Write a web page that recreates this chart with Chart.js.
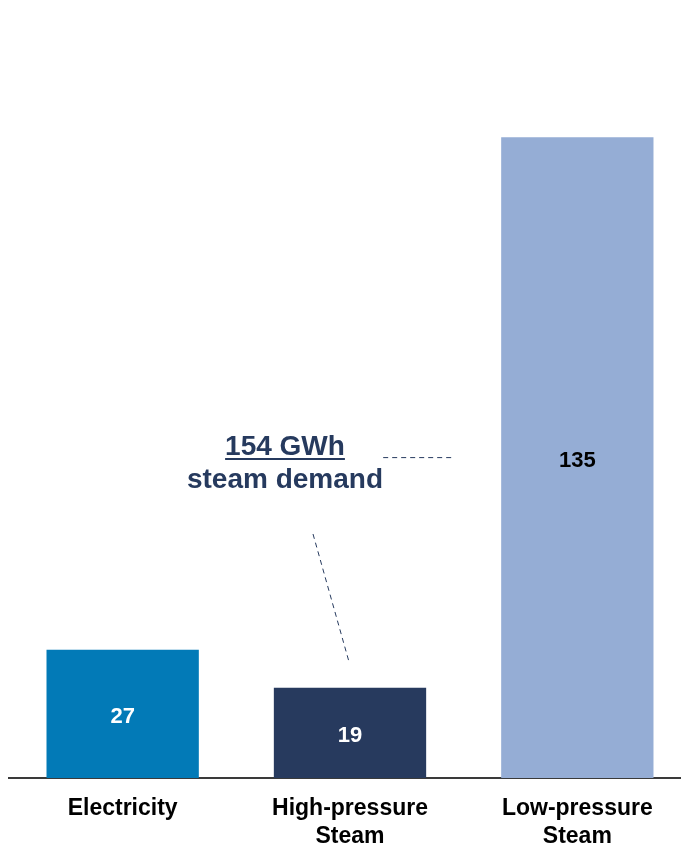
<!DOCTYPE html>
<html>
<head>
<meta charset="utf-8">
<script src="https://cdn.jsdelivr.net/npm/chart.js@4"></script>
<style>
  html, body { margin:0; padding:0; background:#fff; overflow:hidden; }
  #wrap { width:701px; height:847px; }
</style>
</head>
<body>
<div id="wrap"><canvas id="c" width="701" height="847"></canvas></div>
<script>
// Data
const categories = [["Electricity"], ["High-pressure", "Steam"], ["Low-pressure", "Steam"]];
const values = [27, 19, 135];
const barColors = ["#027AB7", "#273A5E", "#95ADD5"];
const labelColors = ["#ffffff", "#ffffff", "#000000"];
const steamIdx = [1, 2];

const FONT = "'Liberation Sans', Arial, sans-serif";
const NAVY = "#263A5E";

// value labels inside bars
const barLabels = {
  id: "barLabels",
  afterDatasetsDraw(chart) {
    const ctx = chart.ctx;
    const meta = chart.getDatasetMeta(0);
    ctx.save();
    ctx.font = "bold 22px " + FONT;
    ctx.textAlign = "center";
    ctx.textBaseline = "middle";
    meta.data.forEach((bar, i) => {
      ctx.fillStyle = labelColors[i];
      ctx.fillText(values[i], bar.x, (bar.y + bar.base) / 2 + 3);
    });
    ctx.restore();
  }
};

// "154 GWh steam demand" callout with dashed leaders
const callout = {
  id: "callout",
  afterDraw(chart) {
    const ctx = chart.ctx;
    const meta = chart.getDatasetMeta(0);
    const hp = meta.data[1], lp = meta.data[2];
    const total = steamIdx.reduce((s, i) => s + values[i], 0);
    const cx = hp.x - 65;
    const midLp = (lp.y + lp.base) / 2;
    ctx.save();
    ctx.fillStyle = NAVY;
    ctx.textAlign = "center";
    ctx.textBaseline = "alphabetic";
    ctx.font = "bold 28px " + FONT;
    const t1 = total + " GWh";
    ctx.fillText(t1, cx, 455);
    const w = ctx.measureText(t1).width;
    ctx.fillRect(cx - w / 2, 458, w, 2);
    ctx.fillText("steam demand", cx, 488);

    ctx.strokeStyle = NAVY;
    ctx.lineWidth = 1;
    ctx.setLineDash([5, 4]);
    const left = lp.x - lp.width / 2;
    ctx.beginPath();
    ctx.moveTo(left - 118, midLp);
    ctx.lineTo(left - 48, midLp);
    ctx.stroke();
    ctx.beginPath();
    ctx.moveTo(hp.x - 37, 534);
    ctx.lineTo(hp.x - 1, hp.y - 26);
    ctx.stroke();
    ctx.restore();
  }
};

new Chart(document.getElementById("c"), {
  type: "bar",
  data: {
    labels: categories,
    datasets: [{
      data: values,
      backgroundColor: barColors,
      barPercentage: 0.67,
      categoryPercentage: 1
    }]
  },
  options: {
    responsive: false,
    animation: false,
    events: [],
    layout: { padding: { left: 9, right: 10, top: 66, bottom: 0 } },
    plugins: { legend: { display: false }, tooltip: { enabled: false } },
    scales: {
      x: {
        grid: { display: false, drawTicks: false },
        border: { display: true, color: "#3a3a3a", width: 2 },
        ticks: {
          color: "#000",
          padding: 17,
          font: { family: FONT, size: 23, weight: "bold", lineHeight: 28 / 23 },
          maxRotation: 0,
          autoSkip: false
        },
        afterFit(scale) { scale.height = 69; }
      },
      y: {
        display: false,
        min: 0,
        max: 150
      }
    }
  },
  plugins: [barLabels, callout]
});
</script>
</body>
</html>
